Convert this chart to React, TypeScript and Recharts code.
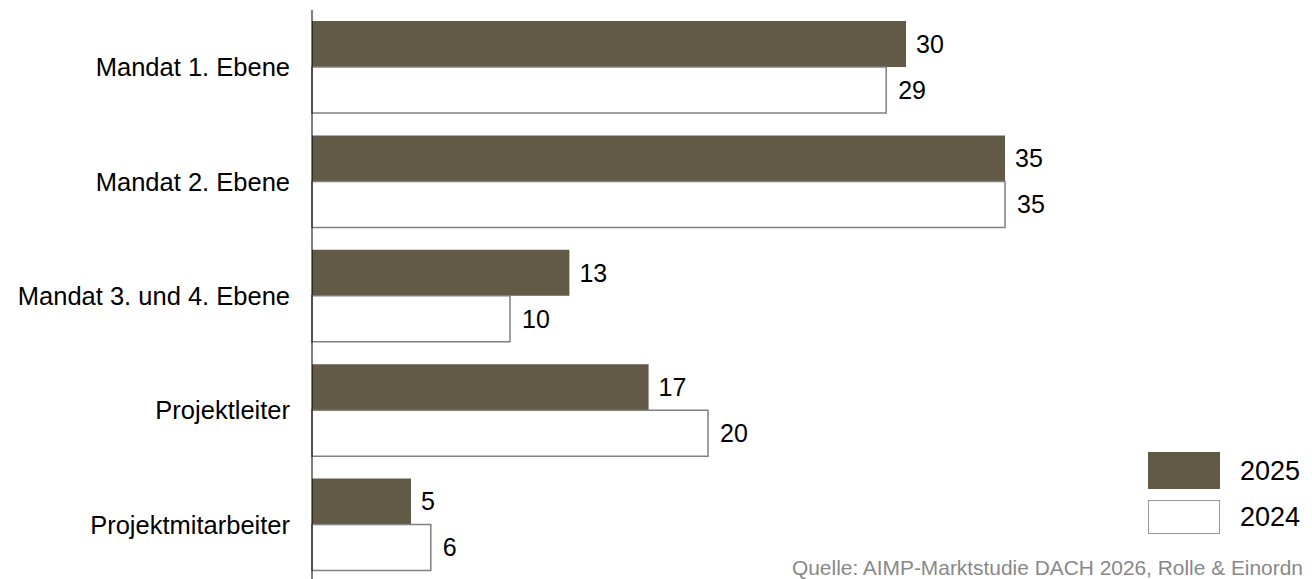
import React from 'react';
import { BarChart, Bar, XAxis, YAxis, LabelList } from 'recharts';

const categories = [
  'Mandat 1. Ebene',
  'Mandat 2. Ebene',
  'Mandat 3. und 4. Ebene',
  'Projektleiter',
  'Projektmitarbeiter',
];
const values2025 = [30, 35, 13, 17, 5];
const values2024 = [29, 35, 10, 20, 6];
const seriesNames = ['2025', '2024'];
// the reference shows the source line cut at the right edge
const sourceText = 'Quelle: AIMP-Marktstudie DACH 2026, Rolle & Einordn';

const data = categories.map((name, i) => ({
  name,
  y2025: values2025[i],
  y2024: values2024[i],
}));

const FONT = '"Liberation Sans", Arial, Helvetica, sans-serif';
const DARK = '#625a46';
const BORDER = '#808080';

export default function App() {
  return (
    <div
      style={{
        position: 'absolute',
        left: 0,
        top: 0,
        width: 1312,
        height: 579,
        overflow: 'hidden',
        background: '#fff',
        fontFamily: FONT,
      }}
    >
      <BarChart
        width={1312}
        height={579}
        data={data}
        layout="vertical"
        barSize={46}
        barGap={0}
        margin={{ top: 10, right: 10, bottom: -3, left: 0 }}
      >
        <XAxis type="number" domain={[0, 50]} hide />
        <YAxis
          type="category"
          dataKey="name"
          width={312}
          axisLine={{ stroke: '#000', strokeWidth: 1 }}
          tickLine={false}
          tickSize={0}
          tickMargin={22}
          tick={{ fill: '#000', fontSize: 25.5, fontFamily: FONT }}
        />
        <Bar dataKey="y2025" name={seriesNames[0]} fill={DARK} isAnimationActive={false}>
          <LabelList
            dataKey="y2025"
            position="right"
            offset={10}
            fill="#000"
            fontSize={25}
            fontFamily={FONT}
          />
        </Bar>
        <Bar
          dataKey="y2024"
          name={seriesNames[1]}
          fill="#fff"
          stroke={BORDER}
          strokeWidth={1.5}
          isAnimationActive={false}
        >
          <LabelList
            dataKey="y2024"
            position="right"
            offset={12}
            fill="#000"
            fontSize={25}
            fontFamily={FONT}
          />
        </Bar>
      </BarChart>

      {/* legend */}
      {seriesNames.map((s, i) => (
        <div
          key={s}
          style={{
            position: 'absolute',
            left: 1148,
            top: i === 0 ? 452 : 500,
            display: 'flex',
            alignItems: 'center',
          }}
        >
          <div
            style={{
              width: 72,
              height: i === 0 ? 37 : 34,
              boxSizing: 'border-box',
              background: i === 0 ? DARK : '#fff',
              border: i === 0 ? 'none' : '1.5px solid #999',
            }}
          />
          <span style={{ marginLeft: 20, fontSize: 27, color: '#000', lineHeight: '34px' }}>{s}</span>
        </div>
      ))}

      <div
        style={{
          position: 'absolute',
          left: 792,
          top: 556,
          fontSize: 20.9,
          color: '#888',
          whiteSpace: 'nowrap',
        }}
      >
        {sourceText}
      </div>
    </div>
  );
}
